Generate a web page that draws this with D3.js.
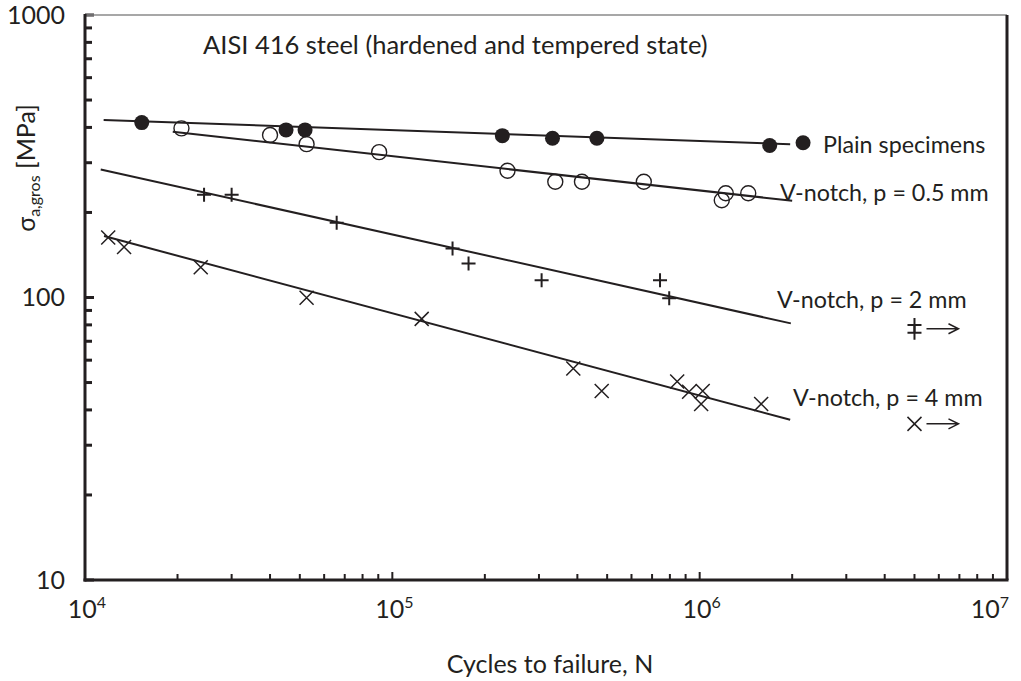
<!DOCTYPE html>
<html>
<head>
<meta charset="utf-8">
<script src="https://cdn.jsdelivr.net/npm/d3@7"></script>
<style>
  body { margin: 0; background: #fff; }
  svg { display: block; font-family: Lato, "Open Sans", sans-serif; }
</style>
</head>
<body>
<div id="chart"></div>
<script>
// data (N = cycles to failure, S = stress amplitude in MPa)
var plainN = [15300, 45100, 52000, 228000, 332000, 463000, 1690000, 2170000];
var plainS = [416, 392, 392, 374, 366, 366, 345, 353];

var notch05N = [20600, 40000, 52600, 90600, 237000, 339000, 414000, 658000, 1216000, 1180000, 1439000];
var notch05S = [397, 376, 349, 327, 281, 257, 257, 257, 234, 221, 234];

var notch2N = [24400, 30000, 65900, 157000, 177000, 306000, 743000, 796000];
var notch2S = [231, 231, 184, 149, 132, 115, 115, 99.4];
var notch2RunN = [5e6, 5e6];
var notch2RunS = [80, 75];

var notch4N = [11900, 13400, 23800, 52600, 124600, 388000, 480000, 845000, 924000, 1023000, 1011000, 1585000];
var notch4S = [163, 151, 128, 99.8, 84, 56.1, 46.7, 50.4, 46.4, 46.7, 42.0, 42.0];
var notch4RunN = [5e6];
var notch4RunS = [35.7];

// fitted lines (end points)
var plainFitN = [11500, 1970000], plainFitS = [425, 349];
var notch05FitN = [19300, 2000000], notch05FitS = [386, 220];
var notch2FitN = [11250, 1980000], notch2FitS = [284, 81];
var notch4FitN = [11530, 1970000], notch4FitS = [165, 36.9];

var xTickLabels = [1e4, 1e5, 1e6, 1e7];
var yTickLabels = [10, 100, 1000];

var ink = "#231f20";

var margin = { top: 15, right: 14, bottom: 101, left: 85 },
    width = 1021 - margin.left - margin.right,
    height = 681 - margin.top - margin.bottom;

var svg = d3.select("#chart")
    .append("svg")
    .attr("width", 1021)
    .attr("height", 681);

var g = svg.append("g")
    .attr("transform", "translate(" + margin.left + "," + margin.top + ")");

var x = d3.scaleLog().domain([1e4, 1e7]).range([0, width]);
var y = d3.scaleLog().domain([10, 1000]).range([height, 0]);

function isMajor(v) {
    return Math.abs(Math.log10(v) - Math.round(Math.log10(v))) < 1e-9;
}

// y ticks (inside, pointing right)
g.selectAll(".ytick")
    .data(y.ticks())
    .enter()
    .append("line")
    .attr("x1", 0)
    .attr("x2", function (d) { return isMajor(d) ? 9 : 7; })
    .attr("y1", function (d) { return y(d); })
    .attr("y2", function (d) { return y(d); })
    .attr("stroke", ink)
    .attr("stroke-width", 3);

// x ticks (inside, pointing up)
g.selectAll(".xtick")
    .data(x.ticks())
    .enter()
    .append("line")
    .attr("x1", function (d) { return x(d); })
    .attr("x2", function (d) { return x(d); })
    .attr("y1", height)
    .attr("y2", function (d) { return height - (isMajor(d) ? 8 : 6); })
    .attr("stroke", ink)
    .attr("stroke-width", 2);

// frame
g.append("line").attr("x1", 0).attr("x2", width).attr("y1", 0).attr("y2", 0)
    .attr("stroke", "#8a8a8a").attr("stroke-width", 1.5);
g.append("line").attr("x1", width).attr("x2", width).attr("y1", 0).attr("y2", height)
    .attr("stroke", ink).attr("stroke-width", 3);
g.append("line").attr("x1", 0).attr("x2", 0).attr("y1", -1).attr("y2", height + 1.5)
    .attr("stroke", ink).attr("stroke-width", 3);
g.append("line").attr("x1", -1.5).attr("x2", width + 1.5).attr("y1", height).attr("y2", height)
    .attr("stroke", ink).attr("stroke-width", 3);

// y tick labels
g.selectAll(".ylab")
    .data(yTickLabels)
    .enter()
    .append("text")
    .attr("x", -20)
    .attr("y", function (d) { return y(d); })
    .attr("dy", "0.35em")
    .attr("text-anchor", "end")
    .attr("font-size", 25)
    .attr("fill", ink)
    .text(function (d) { return d; });

// x tick labels 10^n
var xl = g.selectAll(".xlab")
    .data(xTickLabels)
    .enter()
    .append("text")
    .attr("x", function (d) { return Math.min(x(d) + 2, width + 11); })
    .attr("y", height + 38)
    .attr("text-anchor", function (d) { return x(d) >= width ? "end" : "middle"; })
    .attr("font-size", 25)
    .attr("fill", ink);
xl.append("tspan").text("10");
xl.append("tspan")
    .attr("dy", -10)
    .attr("font-size", 16)
    .text(function (d) { return Math.round(Math.log10(d)); });

// fitted lines
var fits = [
    [plainFitN, plainFitS],
    [notch05FitN, notch05FitS],
    [notch2FitN, notch2FitS],
    [notch4FitN, notch4FitS]
];
var line = d3.line()
    .x(function (d) { return x(d[0]); })
    .y(function (d) { return y(d[1]); });

g.selectAll(".fit")
    .data(fits)
    .enter()
    .append("path")
    .attr("d", function (f) { return line(d3.zip(f[0], f[1])); })
    .attr("fill", "none")
    .attr("stroke", ink)
    .attr("stroke-width", 2);

// plain: filled circles
g.selectAll(".plain")
    .data(d3.zip(plainN, plainS))
    .enter()
    .append("circle")
    .attr("cx", function (d) { return x(d[0]); })
    .attr("cy", function (d) { return y(d[1]); })
    .attr("r", 7.5)
    .attr("fill", ink);

// 0.5 mm: open circles
g.selectAll(".n05")
    .data(d3.zip(notch05N, notch05S))
    .enter()
    .append("circle")
    .attr("cx", function (d) { return x(d[0]); })
    .attr("cy", function (d) { return y(d[1]); })
    .attr("r", 7.5)
    .attr("fill", "none")
    .attr("stroke", ink)
    .attr("stroke-width", 1.4);

function plusPath(s) {
    return "M" + (-s) + ",0H" + s + "M0," + (-s) + "V" + s;
}
function crossPath(s) {
    return "M" + (-s) + "," + (-s) + "L" + s + "," + s + "M" + (-s) + "," + s + "L" + s + "," + (-s);
}

// 2 mm: plus
g.selectAll(".n2")
    .data(d3.zip(notch2N.concat(notch2RunN), notch2S.concat(notch2RunS)))
    .enter()
    .append("path")
    .attr("transform", function (d) { return "translate(" + x(d[0]) + "," + y(d[1]) + ")"; })
    .attr("d", plusPath(7))
    .attr("fill", "none")
    .attr("stroke", ink)
    .attr("stroke-width", 2);

// 4 mm: cross
g.selectAll(".n4")
    .data(d3.zip(notch4N.concat(notch4RunN), notch4S.concat(notch4RunS)))
    .enter()
    .append("path")
    .attr("transform", function (d) { return "translate(" + x(d[0]) + "," + y(d[1]) + ")"; })
    .attr("d", crossPath(7))
    .attr("fill", "none")
    .attr("stroke", ink)
    .attr("stroke-width", 1.5);

// run-out arrows
var runouts = [[notch2RunN[0], d3.mean(notch2RunS)], [notch4RunN[0], notch4RunS[0]]];
g.selectAll(".arrow")
    .data(runouts)
    .enter()
    .append("path")
    .attr("transform", function (d) { return "translate(" + x(d[0]) + "," + y(d[1]) + ")"; })
    .attr("d", "M12,0H44M34,-5L44,0L34,5")
    .attr("fill", "none")
    .attr("stroke", ink)
    .attr("stroke-width", 1.5);

// series labels
var labels = [
    { t: "Plain specimens", x: 823, y: 153 },
    { t: "V-notch, p = 0.5 mm", x: 780, y: 201 },
    { t: "V-notch, p = 2 mm", x: 777, y: 308 },
    { t: "V-notch, p = 4 mm", x: 793, y: 406 }
];
svg.selectAll(".slab")
    .data(labels)
    .enter()
    .append("text")
    .attr("x", function (d) { return d.x; })
    .attr("y", function (d) { return d.y; })
    .attr("font-size", 23.3)
    .attr("fill", ink)
    .text(function (d) { return d.t; });

// title
svg.append("text")
    .attr("x", 203)
    .attr("y", 54)
    .attr("font-size", 25.5)
    .attr("fill", ink)
    .text("AISI 416 steel (hardened and tempered state)");

// axis titles
svg.append("text")
    .attr("x", 550)
    .attr("y", 673)
    .attr("text-anchor", "middle")
    .attr("font-size", 25)
    .attr("fill", ink)
    .text("Cycles to failure, N");

var yt = svg.append("text")
    .attr("transform", "translate(35,168) rotate(-90)")
    .attr("text-anchor", "middle")
    .attr("font-size", 25)
    .attr("fill", ink);
yt.append("tspan").text("σ");
yt.append("tspan").attr("font-size", 16).attr("dy", 5).text("a,gros");
yt.append("tspan").attr("dy", -5).text(" [MPa]");
</script>
</body>
</html>
